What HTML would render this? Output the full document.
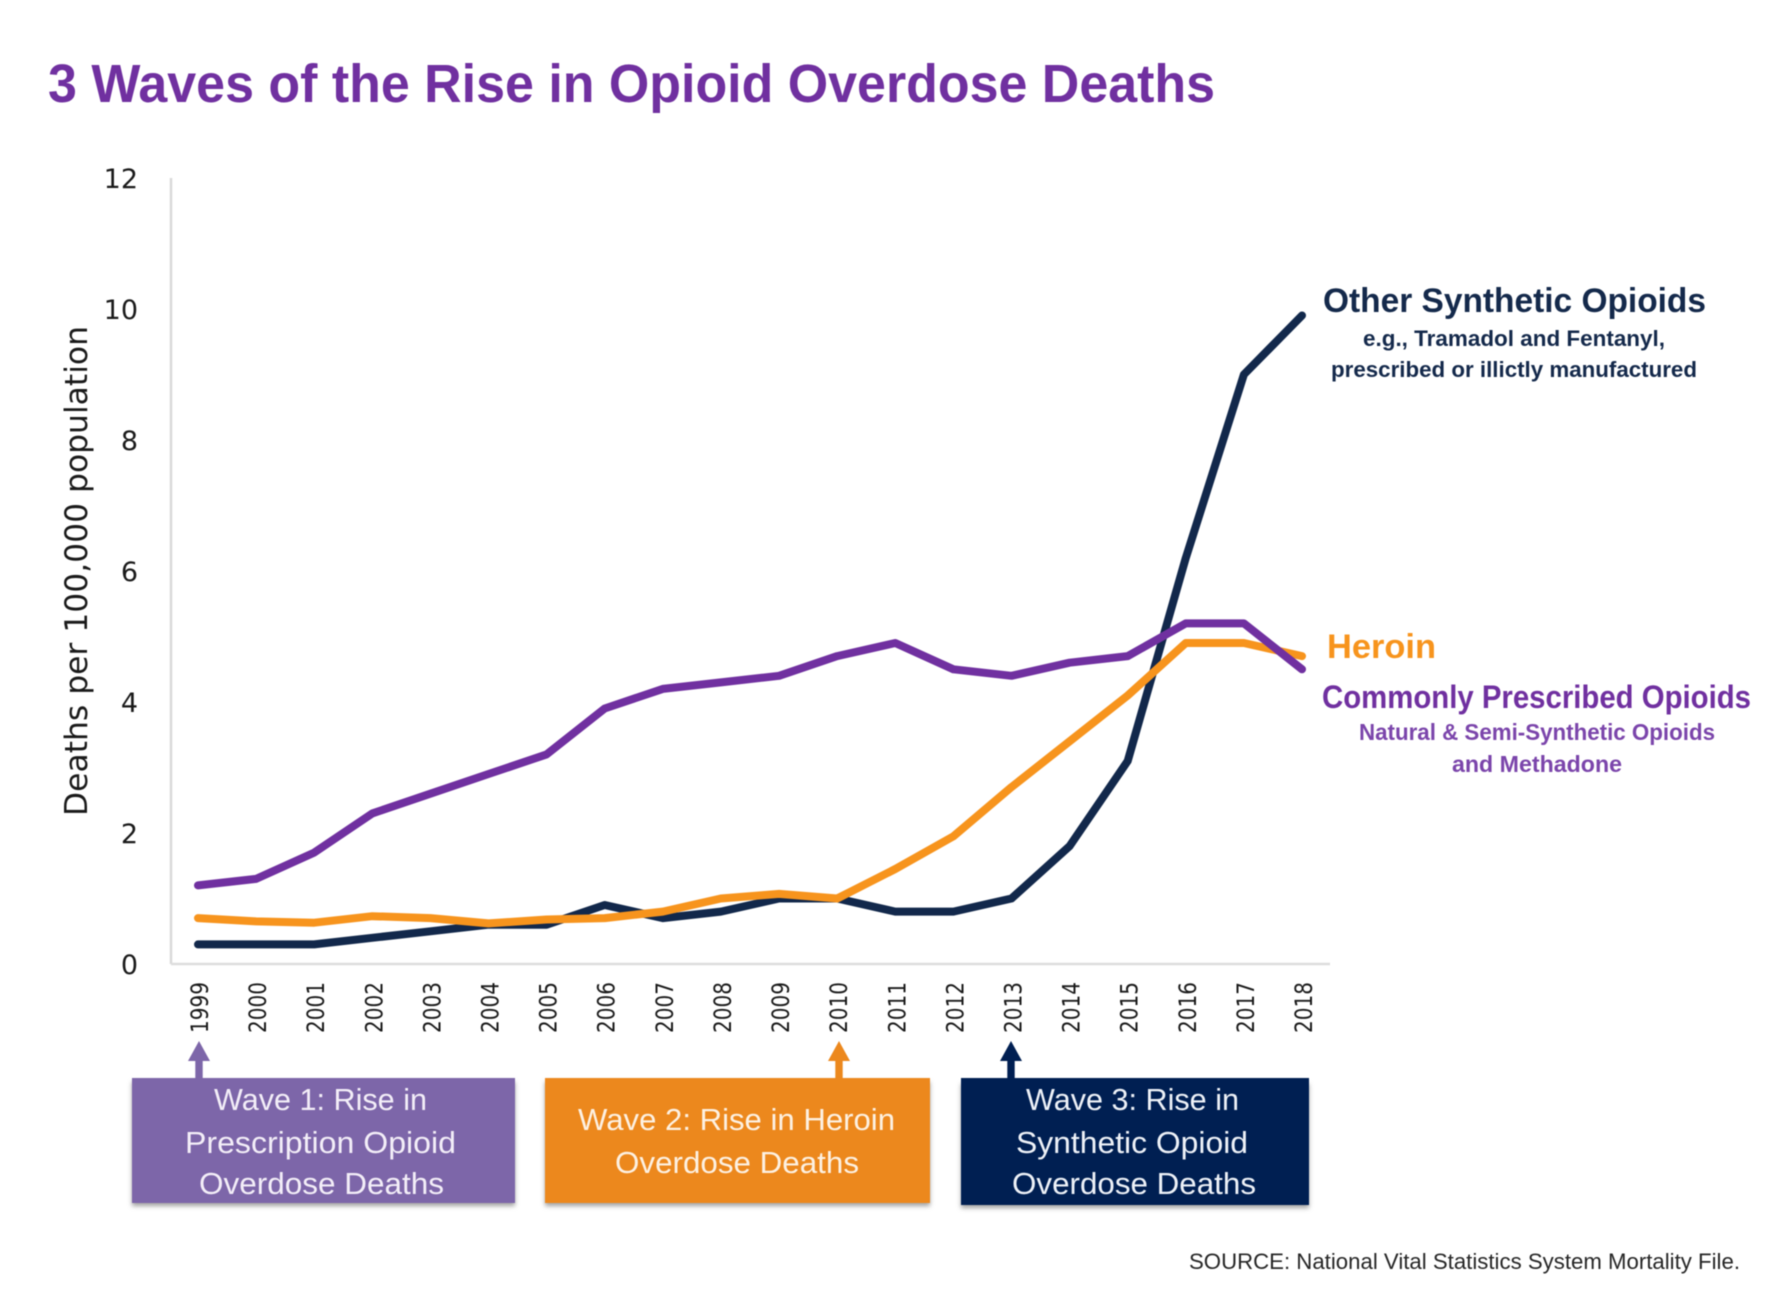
<!DOCTYPE html>
<html lang="en">
<head>
<meta charset="utf-8">
<title>3 Waves of the Rise in Opioid Overdose Deaths</title>
<style>
  html, body { margin: 0; padding: 0; background: #fff; }
  svg { display: block; filter: blur(0.6px); }
  text { font-family: "Liberation Sans", sans-serif; }
  .dj { font-family: "DejaVu Sans", sans-serif; }
</style>
</head>
<body>
<svg id="chart" xmlns="http://www.w3.org/2000/svg" width="1776" height="1290" viewBox="0 0 1776 1290">
  <defs>
    <filter id="soft-shadow" x="-5%" y="-5%" width="110%" height="120%">
      <feGaussianBlur stdDeviation="2.5"/>
    </filter>
  </defs>
  <rect width="1776" height="1290" fill="#ffffff"/>
  <text x="48" y="102" font-size="54" font-weight="700" fill="#7030a0" textLength="1167" lengthAdjust="spacingAndGlyphs">3 Waves of the Rise in Opioid Overdose Deaths</text>

  <text class="dj" transform="translate(87,816) rotate(-90)" font-size="31" fill="#1a1a1a" textLength="490" lengthAdjust="spacingAndGlyphs">Deaths per 100,000 population</text>

  <g id="axes"></g>
  <g id="series"></g>

  <text x="1323" y="312" font-size="34" font-weight="700" fill="#14294b" textLength="383" lengthAdjust="spacingAndGlyphs">Other Synthetic Opioids</text>
  <text x="1363" y="346" font-size="22" font-weight="700" fill="#14294b" textLength="302" lengthAdjust="spacingAndGlyphs">e.g., Tramadol and Fentanyl,</text>
  <text x="1331" y="377" font-size="22" font-weight="700" fill="#14294b" textLength="366" lengthAdjust="spacingAndGlyphs">prescribed or illictly manufactured</text>
  <text x="1327" y="658" font-size="34" font-weight="700" fill="#f7941d" textLength="109" lengthAdjust="spacingAndGlyphs">Heroin</text>
  <text x="1322" y="708" font-size="32" font-weight="700" fill="#7030a0" textLength="429" lengthAdjust="spacingAndGlyphs">Commonly Prescribed Opioids</text>
  <text x="1359" y="740" font-size="23" font-weight="700" fill="#7b45ab" textLength="356" lengthAdjust="spacingAndGlyphs">Natural &amp; Semi-Synthetic Opioids</text>
  <text x="1452" y="772" font-size="23" font-weight="700" fill="#7b45ab" textLength="170" lengthAdjust="spacingAndGlyphs">and Methadone</text>

  <g>
    <polygon points="199,1041 210,1061 202.7,1061 202.7,1080 195.3,1080 195.3,1061 188,1061" fill="#7d66a9"/>
    <rect x="132" y="1082" width="383" height="124" fill="#a0a0a0" filter="url(#soft-shadow)"/>
    <rect x="132" y="1078" width="383" height="125" fill="#7d66a9"/>
    <text x="214" y="1110" font-size="31" fill="#f3eef8" textLength="213" lengthAdjust="spacingAndGlyphs">Wave 1: Rise in</text>
    <text x="185" y="1153" font-size="31" fill="#f3eef8" textLength="271" lengthAdjust="spacingAndGlyphs">Prescription Opioid</text>
    <text x="199" y="1194" font-size="31" fill="#f3eef8" textLength="245" lengthAdjust="spacingAndGlyphs">Overdose Deaths</text>
  </g>
  <g>
    <polygon points="839,1041 850,1061 842.7,1061 842.7,1080 835.3,1080 835.3,1061 828,1061" fill="#ec881d"/>
    <rect x="545" y="1082" width="385" height="124" fill="#a0a0a0" filter="url(#soft-shadow)"/>
    <rect x="545" y="1078" width="385" height="125" fill="#ec881d"/>
    <text x="578" y="1130" font-size="31" fill="#fdf1e2" textLength="317" lengthAdjust="spacingAndGlyphs">Wave 2: Rise in Heroin</text>
    <text x="615" y="1173" font-size="31" fill="#fdf1e2" textLength="244" lengthAdjust="spacingAndGlyphs">Overdose Deaths</text>
  </g>
  <g>
    <polygon points="1011,1041 1022,1061 1014.7,1061 1014.7,1080 1007.3,1080 1007.3,1061 1000,1061" fill="#001f52"/>
    <rect x="961" y="1084" width="348" height="124" fill="#a0a0a0" filter="url(#soft-shadow)"/>
    <rect x="961" y="1078" width="348" height="127" fill="#001f52"/>
    <text x="1026" y="1110" font-size="31" fill="#eef2f8" textLength="213" lengthAdjust="spacingAndGlyphs">Wave 3: Rise in</text>
    <text x="1016" y="1153" font-size="31" fill="#eef2f8" textLength="232" lengthAdjust="spacingAndGlyphs">Synthetic Opioid</text>
    <text x="1012" y="1194" font-size="31" fill="#eef2f8" textLength="244" lengthAdjust="spacingAndGlyphs">Overdose Deaths</text>
  </g>

  <text x="1189" y="1269" font-size="22" fill="#262626" textLength="551" lengthAdjust="spacingAndGlyphs">SOURCE:  National Vital Statistics System Mortality File.</text>
</svg>

<script>
const years = ["1999","2000","2001","2002","2003","2004","2005","2006","2007","2008","2009","2010","2011","2012","2013","2014","2015","2016","2017","2018"];
const yTicks = [0, 2, 4, 6, 8, 10, 12];
const otherSynthetic = [0.3,0.3,0.3,0.4,0.5,0.6,0.6,0.9,0.7,0.8,1.0,1.0,0.8,0.8,1.0,1.8,3.1,6.2,9.0,9.9];
const heroin = [0.7,0.65,0.63,0.73,0.7,0.62,0.68,0.7,0.8,1.0,1.07,1.0,1.45,1.95,2.7,3.4,4.1,4.9,4.9,4.7];
const commonlyPrescribed = [1.2,1.3,1.7,2.3,2.6,2.9,3.2,3.9,4.2,4.3,4.4,4.7,4.9,4.5,4.4,4.6,4.7,5.2,5.2,4.5];

const NS = "http://www.w3.org/2000/svg";
const plot = { left: 171, right: 1330, top: 178, bottom: 964, firstX: 198, lastX: 1302, yMax: 12 };

function xScale(i) {
  return plot.firstX + (plot.lastX - plot.firstX) * i / (years.length - 1);
}
function yScale(v) {
  return plot.bottom - (plot.bottom - plot.top) * v / plot.yMax;
}

const axes = document.getElementById("axes");

const yAxisLine = document.createElementNS(NS, "line");


yAxisLine.setAttribute("x1", plot.left);
yAxisLine.setAttribute("x2", plot.left);
yAxisLine.setAttribute("y1", plot.top);
yAxisLine.setAttribute("y2", plot.bottom);
yAxisLine.setAttribute("stroke", "#d9d9d9");
yAxisLine.setAttribute("stroke-width", "2.5");
axes.appendChild(yAxisLine);

const xAxisLine = document.createElementNS(NS, "line");


xAxisLine.setAttribute("x1", plot.left);
xAxisLine.setAttribute("x2", plot.right);
xAxisLine.setAttribute("y1", plot.bottom);
xAxisLine.setAttribute("y2", plot.bottom);
xAxisLine.setAttribute("stroke", "#dddddd");
xAxisLine.setAttribute("stroke-width", "2.5");
axes.appendChild(xAxisLine);

yTicks.forEach(function (tick) {
  const label = document.createElementNS(NS, "text");
  
  
  label.setAttribute("class", "dj");
  label.setAttribute("x", 138);
  label.setAttribute("y", yScale(tick) + 10);
  label.setAttribute("text-anchor", "end");
  label.setAttribute("font-size", "27");
  label.setAttribute("fill", "#1a1a1a");
  label.textContent = String(tick);
  axes.appendChild(label);
});

years.forEach(function (year, i) {
  const label = document.createElementNS(NS, "text");
  
  
  label.setAttribute("class", "dj");
  label.setAttribute("transform", "translate(" + (xScale(i) + 10) + ",1033) rotate(-90)");
  label.setAttribute("font-size", "24");
  label.setAttribute("fill", "#1a1a1a");
  label.setAttribute("textLength", "51");
  label.setAttribute("lengthAdjust", "spacingAndGlyphs");
  label.textContent = year;
  axes.appendChild(label);
});

const seriesGroup = document.getElementById("series");

function drawSeries(values, color, name) {
  const points = values.map(function (v, i) {
    return xScale(i).toFixed(1) + "," + yScale(v).toFixed(1);
  }).join(" ");
  const line = document.createElementNS(NS, "polyline");
  
  
  line.setAttribute("points", points);
  line.setAttribute("fill", "none");
  line.setAttribute("stroke", color);
  line.setAttribute("stroke-width", "8");
  line.setAttribute("stroke-linejoin", "round");
  line.setAttribute("stroke-linecap", "round");
  seriesGroup.appendChild(line);
}

drawSeries(otherSynthetic, "#12284b", "line-other-synthetic-opioids");
drawSeries(heroin, "#f7941d", "line-heroin");
drawSeries(commonlyPrescribed, "#7030a0", "line-commonly-prescribed-opioids");
</script>
</body>
</html>
